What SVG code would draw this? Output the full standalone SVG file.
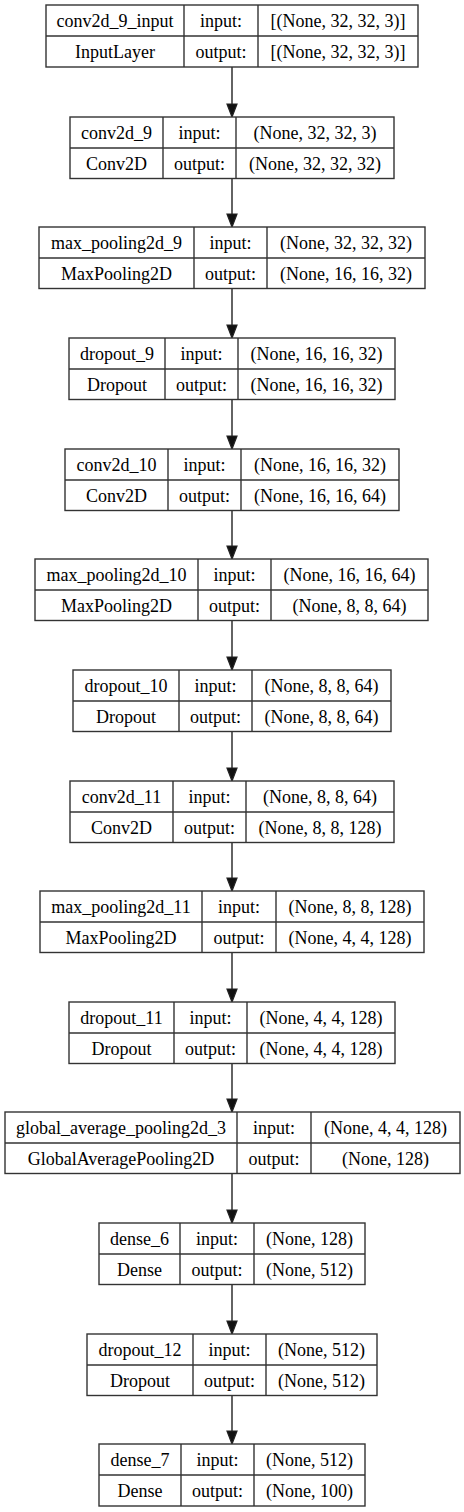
<svg xmlns="http://www.w3.org/2000/svg" width="464" height="1512" viewBox="0 0 464 1512">
<style>
.b{fill:#fff;stroke:#333;stroke-width:1.4}
.l{stroke:#333;stroke-width:1.4}
text{font-family:"Liberation Serif","Times New Roman",serif;font-size:18px;fill:#000;text-anchor:middle}
.e{stroke:#222;stroke-width:1.4;fill:none}
.h{fill:#111;stroke:#222;stroke-width:1.2}
</style>
<rect width="464" height="1512" fill="#fff"/>
<g id="connectors">
<line class="e" x1="232" y1="67" x2="232" y2="104"/><polygon class="h" points="227,104 237,104 232,117"/>
<line class="e" x1="232" y1="178.5" x2="232" y2="214"/><polygon class="h" points="227,214 237,214 232,227"/>
<line class="e" x1="232" y1="288.5" x2="232" y2="325"/><polygon class="h" points="227,325 237,325 232,338"/>
<line class="e" x1="232" y1="399.5" x2="232" y2="436"/><polygon class="h" points="227,436 237,436 232,449"/>
<line class="e" x1="232" y1="510.5" x2="232" y2="546"/><polygon class="h" points="227,546 237,546 232,559"/>
<line class="e" x1="232" y1="620.5" x2="232" y2="657"/><polygon class="h" points="227,657 237,657 232,670"/>
<line class="e" x1="232" y1="731.5" x2="232" y2="768"/><polygon class="h" points="227,768 237,768 232,781"/>
<line class="e" x1="232" y1="842.5" x2="232" y2="878"/><polygon class="h" points="227,878 237,878 232,891"/>
<line class="e" x1="232" y1="952.5" x2="232" y2="989"/><polygon class="h" points="227,989 237,989 232,1002"/>
<line class="e" x1="232" y1="1063.5" x2="232" y2="1099"/><polygon class="h" points="227,1099 237,1099 232,1112"/>
<line class="e" x1="232" y1="1173.5" x2="232" y2="1210"/><polygon class="h" points="227,1210 237,1210 232,1223"/>
<line class="e" x1="232" y1="1284.5" x2="232" y2="1321"/><polygon class="h" points="227,1321 237,1321 232,1334"/>
<line class="e" x1="232" y1="1395.5" x2="232" y2="1431"/><polygon class="h" points="227,1431 237,1431 232,1444"/>
</g>
<g id="n0">
<rect class="b" x="46" y="5" width="372" height="62"/>
<line class="l" x1="46" y1="36" x2="418" y2="36"/><line class="l" x1="184" y1="5" x2="184" y2="67"/><line class="l" x1="258" y1="5" x2="258" y2="67"/>
<text x="115" y="26.5">conv2d_9_input</text><text x="221" y="26.5">input:</text><text x="338" y="26.5">[(None, 32, 32, 3)]</text>
<text x="115" y="57.5">InputLayer</text><text x="221" y="57.5">output:</text><text x="338" y="57.5">[(None, 32, 32, 3)]</text>
</g>
<g id="n1">
<rect class="b" x="70" y="117" width="324" height="61.5"/>
<line class="l" x1="70" y1="148" x2="394" y2="148"/><line class="l" x1="163" y1="117" x2="163" y2="178.5"/><line class="l" x1="236" y1="117" x2="236" y2="178.5"/>
<text x="116.5" y="138.5">conv2d_9</text><text x="199.5" y="138.5">input:</text><text x="315" y="138.5">(None, 32, 32, 3)</text>
<text x="116.5" y="169.5">Conv2D</text><text x="199.5" y="169.5">output:</text><text x="315" y="169.5">(None, 32, 32, 32)</text>
</g>
<g id="n2">
<rect class="b" x="39" y="227" width="386" height="61.5"/>
<line class="l" x1="39" y1="258" x2="425" y2="258"/><line class="l" x1="194" y1="227" x2="194" y2="288.5"/><line class="l" x1="267" y1="227" x2="267" y2="288.5"/>
<text x="116.5" y="248.5">max_pooling2d_9</text><text x="230.5" y="248.5">input:</text><text x="346" y="248.5">(None, 32, 32, 32)</text>
<text x="116.5" y="279.5">MaxPooling2D</text><text x="230.5" y="279.5">output:</text><text x="346" y="279.5">(None, 16, 16, 32)</text>
</g>
<g id="n3">
<rect class="b" x="69" y="338" width="326" height="61.5"/>
<line class="l" x1="69" y1="369" x2="395" y2="369"/><line class="l" x1="165" y1="338" x2="165" y2="399.5"/><line class="l" x1="238" y1="338" x2="238" y2="399.5"/>
<text x="117" y="359.5">dropout_9</text><text x="201.5" y="359.5">input:</text><text x="316.5" y="359.5">(None, 16, 16, 32)</text>
<text x="117" y="390.5">Dropout</text><text x="201.5" y="390.5">output:</text><text x="316.5" y="390.5">(None, 16, 16, 32)</text>
</g>
<g id="n4">
<rect class="b" x="65" y="449" width="334" height="61.5"/>
<line class="l" x1="65" y1="480" x2="399" y2="480"/><line class="l" x1="168" y1="449" x2="168" y2="510.5"/><line class="l" x1="241" y1="449" x2="241" y2="510.5"/>
<text x="116.5" y="470.5">conv2d_10</text><text x="204.5" y="470.5">input:</text><text x="320" y="470.5">(None, 16, 16, 32)</text>
<text x="116.5" y="501.5">Conv2D</text><text x="204.5" y="501.5">output:</text><text x="320" y="501.5">(None, 16, 16, 64)</text>
</g>
<g id="n5">
<rect class="b" x="35" y="559" width="393" height="61.5"/>
<line class="l" x1="35" y1="590" x2="428" y2="590"/><line class="l" x1="198" y1="559" x2="198" y2="620.5"/><line class="l" x1="271" y1="559" x2="271" y2="620.5"/>
<text x="116.5" y="580.5">max_pooling2d_10</text><text x="234.5" y="580.5">input:</text><text x="349.5" y="580.5">(None, 16, 16, 64)</text>
<text x="116.5" y="611.5">MaxPooling2D</text><text x="234.5" y="611.5">output:</text><text x="349.5" y="611.5">(None, 8, 8, 64)</text>
</g>
<g id="n6">
<rect class="b" x="73" y="670" width="318" height="61.5"/>
<line class="l" x1="73" y1="701" x2="391" y2="701"/><line class="l" x1="179" y1="670" x2="179" y2="731.5"/><line class="l" x1="252" y1="670" x2="252" y2="731.5"/>
<text x="126" y="691.5">dropout_10</text><text x="215.5" y="691.5">input:</text><text x="321.5" y="691.5">(None, 8, 8, 64)</text>
<text x="126" y="722.5">Dropout</text><text x="215.5" y="722.5">output:</text><text x="321.5" y="722.5">(None, 8, 8, 64)</text>
</g>
<g id="n7">
<rect class="b" x="70" y="781" width="324" height="61.5"/>
<line class="l" x1="70" y1="812" x2="394" y2="812"/><line class="l" x1="173" y1="781" x2="173" y2="842.5"/><line class="l" x1="246" y1="781" x2="246" y2="842.5"/>
<text x="121.5" y="802.5">conv2d_11</text><text x="209.5" y="802.5">input:</text><text x="320" y="802.5">(None, 8, 8, 64)</text>
<text x="121.5" y="833.5">Conv2D</text><text x="209.5" y="833.5">output:</text><text x="320" y="833.5">(None, 8, 8, 128)</text>
</g>
<g id="n8">
<rect class="b" x="40" y="891" width="384" height="61.5"/>
<line class="l" x1="40" y1="922" x2="424" y2="922"/><line class="l" x1="202" y1="891" x2="202" y2="952.5"/><line class="l" x1="276" y1="891" x2="276" y2="952.5"/>
<text x="121" y="912.5">max_pooling2d_11</text><text x="239" y="912.5">input:</text><text x="350" y="912.5">(None, 8, 8, 128)</text>
<text x="121" y="943.5">MaxPooling2D</text><text x="239" y="943.5">output:</text><text x="350" y="943.5">(None, 4, 4, 128)</text>
</g>
<g id="n9">
<rect class="b" x="69" y="1002" width="326" height="61.5"/>
<line class="l" x1="69" y1="1033" x2="395" y2="1033"/><line class="l" x1="174" y1="1002" x2="174" y2="1063.5"/><line class="l" x1="247" y1="1002" x2="247" y2="1063.5"/>
<text x="121.5" y="1023.5">dropout_11</text><text x="210.5" y="1023.5">input:</text><text x="321" y="1023.5">(None, 4, 4, 128)</text>
<text x="121.5" y="1054.5">Dropout</text><text x="210.5" y="1054.5">output:</text><text x="321" y="1054.5">(None, 4, 4, 128)</text>
</g>
<g id="n10">
<rect class="b" x="5" y="1112" width="455" height="61.5"/>
<line class="l" x1="5" y1="1143" x2="460" y2="1143"/><line class="l" x1="237" y1="1112" x2="237" y2="1173.5"/><line class="l" x1="311" y1="1112" x2="311" y2="1173.5"/>
<text x="121" y="1133.5">global_average_pooling2d_3</text><text x="274" y="1133.5">input:</text><text x="385.5" y="1133.5">(None, 4, 4, 128)</text>
<text x="121" y="1164.5">GlobalAveragePooling2D</text><text x="274" y="1164.5">output:</text><text x="385.5" y="1164.5">(None, 128)</text>
</g>
<g id="n11">
<rect class="b" x="99" y="1223" width="266" height="61.5"/>
<line class="l" x1="99" y1="1254" x2="365" y2="1254"/><line class="l" x1="180" y1="1223" x2="180" y2="1284.5"/><line class="l" x1="254" y1="1223" x2="254" y2="1284.5"/>
<text x="139.5" y="1244.5">dense_6</text><text x="217" y="1244.5">input:</text><text x="309.5" y="1244.5">(None, 128)</text>
<text x="139.5" y="1275.5">Dense</text><text x="217" y="1275.5">output:</text><text x="309.5" y="1275.5">(None, 512)</text>
</g>
<g id="n12">
<rect class="b" x="87" y="1334" width="290" height="61.5"/>
<line class="l" x1="87" y1="1365" x2="377" y2="1365"/><line class="l" x1="193" y1="1334" x2="193" y2="1395.5"/><line class="l" x1="266" y1="1334" x2="266" y2="1395.5"/>
<text x="140" y="1355.5">dropout_12</text><text x="229.5" y="1355.5">input:</text><text x="321.5" y="1355.5">(None, 512)</text>
<text x="140" y="1386.5">Dropout</text><text x="229.5" y="1386.5">output:</text><text x="321.5" y="1386.5">(None, 512)</text>
</g>
<g id="n13">
<rect class="b" x="99" y="1444" width="266" height="62"/>
<line class="l" x1="99" y1="1475" x2="365" y2="1475"/><line class="l" x1="181" y1="1444" x2="181" y2="1506"/><line class="l" x1="254" y1="1444" x2="254" y2="1506"/>
<text x="140" y="1465.5">dense_7</text><text x="217.5" y="1465.5">input:</text><text x="309.5" y="1465.5">(None, 512)</text>
<text x="140" y="1496.5">Dense</text><text x="217.5" y="1496.5">output:</text><text x="309.5" y="1496.5">(None, 100)</text>
</g>
</svg>
